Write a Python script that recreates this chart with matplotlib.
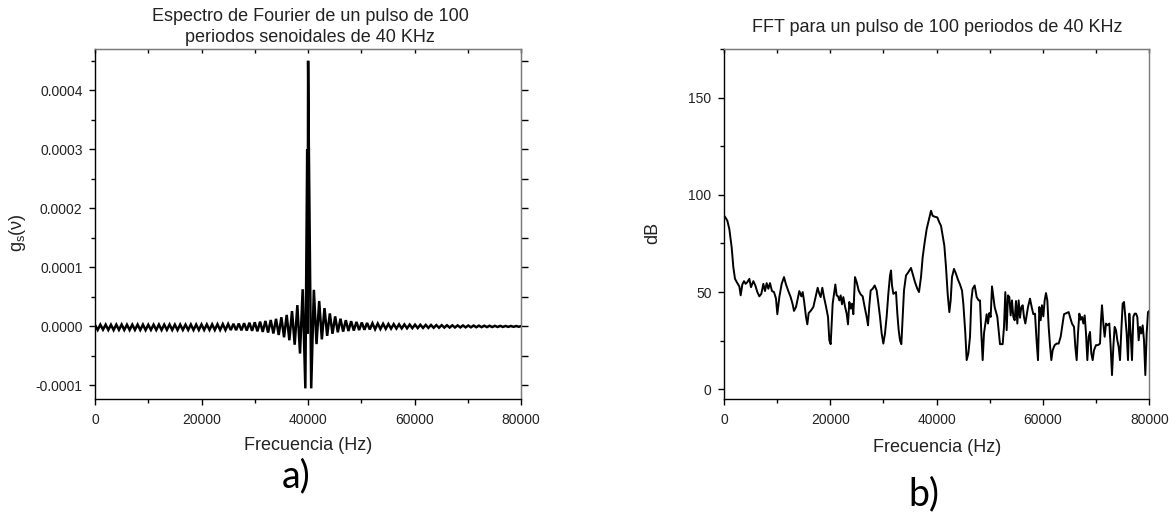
import numpy as np
import matplotlib
matplotlib.use("Agg")
import matplotlib.pyplot as plt
from matplotlib.ticker import MultipleLocator, FixedLocator, FuncFormatter

plt.rcParams['font.family'] = ['Liberation Sans', 'DejaVu Sans']
plt.rcParams['axes.unicode_minus'] = False
plt.rcParams['mathtext.fontset'] = 'custom'
plt.rcParams['mathtext.rm'] = 'Liberation Sans'
plt.rcParams['mathtext.it'] = 'Liberation Sans:italic'

# ---- (a) Fourier spectrum of a 100-period, 40 kHz sine pulse ----
freq_a = [
    0, 500, 1000, 1500, 2000, 2500, 3000, 3500, 4000, 4500,
    5000, 5500, 6000, 6500, 7000, 7500, 8000, 8500, 9000, 9500,
    10000, 10500, 11000, 11500, 12000, 12500, 13000, 13500, 14000, 14500,
    15000, 15500, 16000, 16500, 17000, 17500, 18000, 18500, 19000, 19500,
    20000, 20500, 21000, 21500, 22000, 22500, 23000, 23500, 24000, 24500,
    25000, 25500, 26000, 26500, 27000, 27500, 28000, 28500, 29000, 29500,
    30000, 30500, 31000, 31500, 32000, 32500, 33000, 33500, 34000, 34500,
    35000, 35500, 36000, 36500, 37000, 37500, 38000, 38500, 39000, 39500,
    39850, 39930, 40020, 40130,
    40600, 41100, 41600, 42100, 42600, 43100, 43600, 44100, 44600, 45100,
    45600, 46100, 46600, 47100, 47600, 48100, 48600, 49100, 49600, 50100,
    50600, 51100, 51600, 52100, 52600, 53100, 53600, 54100, 54600, 55100,
    55600, 56100, 56600, 57100, 57600, 58100, 58600, 59100, 59600, 60100,
    60600, 61100, 61600, 62100, 62600, 63100, 63600, 64100, 64600, 65100,
    65600, 66100, 66600, 67100, 67600, 68100, 68600, 69100, 69600, 70100,
    70600, 71100, 71600, 72100, 72600, 73100, 73600, 74100, 74600, 75100,
    75600, 76100, 76600, 77100, 77600, 78100, 78600, 79100, 79600, 80000,
]
# spectrum amplitude in units of 1e-6
gs_micro = [
    2.5, -6.0, 3.0, -5.5, 3.0, -6.0, 2.8, -6.2, 3.0, -5.8,
    3.2, -6.0, 2.9, -6.1, 3.0, -5.9, 3.1, -6.0, 3.0, -6.2,
    2.8, -5.9, 3.0, -6.0, 3.1, -6.1, 3.0, -5.8, 3.2, -6.0,
    3.0, -6.1, 3.1, -5.9, 3.0, -6.0, 3.2, -6.1, 3.1, -6.0,
    3.3, -6.0, 3.4, -5.9, 3.5, -6.0, 3.6, -6.0, 3.8, -6.1,
    4.0, -6.2, 4.4, -6.4, 4.8, -6.7, 5.4, -7.0, 6.2, -7.5,
    7.0, -8.3, 8.0, -9.3, 9.2, -10.5, 10.8, -12.0, 12.8, -14.5,
    15.5, -18.5, 19.5, -23.5, 26.0, -31.0, 36.0, -46.0, 63.0, -105.0,
    300.0, -12.0, 450.0, 330.0,
    -105.0, 62.0, -30.0, 43.0, -22.0, 31.0, -16.0, 22.0, -12.5, 17.0,
    -10.0, 13.0, -8.8, 10.5, -7.8, 8.8, -7.0, 7.6, -6.2, 6.6,
    -5.7, 5.9, -5.2, 5.3, -4.8, 4.8, -4.4, 4.4, -4.1, 4.1,
    -3.8, 3.8, -3.6, 3.5, -3.4, 3.3, -3.2, 3.1, -3.0, 2.9,
    -2.8, 2.7, -2.6, 2.5, -2.5, 2.4, -2.3, 2.2, -2.2, 2.1,
    -2.0, 1.9, -1.9, 1.8, -1.8, 1.7, -1.7, 1.6, -1.6, 1.5,
    -1.5, 1.4, -1.4, 1.3, -1.3, 1.2, -1.2, 1.1, -1.1, 1.0,
    -1.0, 0.9, -0.9, 0.8, -0.8, 0.7, -0.7, 0.6, -0.6, 0.5,
]

# ---- (b) FFT magnitude of the measured pulse, in dB ----
freq_b = [
    188, 627, 1003, 1442, 1756, 2069, 2508, 2884, 3135, 3449,
    3762, 4076, 4389, 4765, 5079, 5518, 5894, 6270, 6646, 7022,
    7399, 7712, 8026, 8339, 8653, 9029, 9405, 9781, 10032, 10408,
    10847, 11286, 11662, 12101, 12540, 12916, 13167, 13543, 13919, 14170,
    14547, 14797, 15048, 15424, 15675, 15926, 16302, 16804, 17305, 17619,
    17932, 18183, 18497, 18810, 19186, 19563, 19813, 20064, 20440, 20691,
    20942, 21193, 21443, 21694, 21945, 22196, 22447, 22760, 23074, 23325,
    23575, 23826, 24077, 24328, 24642, 24955, 25331, 25707, 26084, 26460,
    26836, 27087, 27338, 27588, 27965, 28341, 28717, 28968, 29344, 29657,
    29971, 30284, 30598, 30912, 31225, 31413, 31601, 31852, 32103, 32354,
    32604, 32855, 33106, 33357, 33607, 33858, 34234, 34673, 35175, 35489,
    35927, 36366, 36680, 37056, 37370, 37746, 38122, 38499, 38938, 39251,
    39690, 40129, 40505, 40818, 41132, 41445, 41759, 42072, 42386, 42637,
    42887, 43263, 43640, 44016, 44392, 44768, 45019, 45395, 45646, 45960,
    46273, 46524, 46775, 47151, 47527, 47903, 48154, 48405, 48656, 48906,
    49157, 49408, 49659, 49910, 50160, 50411, 50662, 50913, 51164, 51414,
    51665, 51916, 52418, 52668, 52919, 53170, 53421, 53672, 53922, 54173,
    54424, 54675, 54926, 55176, 55427, 55678, 55929, 56180, 56430, 56681,
    56932, 57183, 57559, 57873, 58186, 58500, 58813, 59064, 59315, 59565,
    59816, 60067, 60318, 60569, 60819, 61070, 61321, 61572, 61823, 62199,
    62575, 62951, 63327, 63705, 63955, 64456, 64833, 65083, 65459, 65835,
    66086, 66337, 66588, 66839, 67089, 67340, 67591, 67842, 68093, 68343,
    68594, 68845, 69096, 69347, 69597, 69974, 70350, 70726, 70914, 71102,
    71353, 71604, 71855, 72105, 72482, 72732, 72983, 73234, 73485, 73736,
    73986, 74237, 74488, 74739, 74990, 75240, 75491, 75742, 75993, 76244,
    76494, 76745, 76996, 77247, 77498, 77748, 77999, 78250, 78501, 78752,
    79002, 79253, 79504, 79755, 80000,
]
db_b = [
    88.7, 86.7, 82.4, 73.0, 62.8, 56.8, 54.6, 52.9, 48.3, 53.9,
    55.6, 54.2, 55.1, 56.8, 52.5, 55.6, 53.4, 50.0, 47.8, 49.1,
    54.2, 50.5, 54.6, 51.7, 54.6, 50.5, 50.0, 46.6, 38.6, 47.4,
    54.2, 57.7, 53.9, 50.5, 47.4, 43.7, 40.3, 42.3, 47.1, 50.5,
    47.8, 50.0, 45.7, 37.2, 33.4, 39.2, 40.3, 42.3, 48.3, 52.2,
    49.1, 47.4, 52.2, 47.4, 42.6, 37.2, 25.2, 23.2, 44.0, 48.8,
    53.9, 48.3, 47.8, 45.7, 48.3, 43.7, 47.4, 42.6, 38.9, 33.4,
    44.9, 41.5, 44.0, 38.6, 57.7, 55.1, 50.8, 48.8, 47.8, 42.3,
    37.2, 32.9, 43.2, 50.8, 51.7, 53.4, 50.8, 45.7, 37.2, 28.7,
    23.5, 28.7, 37.5, 49.1, 58.5, 61.1, 53.4, 49.1, 49.5, 50.0,
    38.9, 30.4, 25.2, 23.2, 37.2, 50.8, 58.5, 60.2, 62.4, 59.4,
    55.1, 51.7, 50.0, 57.7, 67.9, 75.6, 82.4, 86.7, 91.8, 89.2,
    88.7, 88.4, 85.8, 84.1, 79.0, 73.9, 62.8, 49.1, 39.7, 45.7,
    57.7, 61.9, 59.4, 56.3, 53.9, 50.8, 44.0, 28.7, 15.0, 18.4,
    27.0, 45.7, 51.7, 53.4, 47.4, 45.7, 45.7, 28.7, 15.0, 28.7,
    33.8, 38.6, 33.8, 39.2, 37.2, 52.9, 47.4, 42.3, 39.7, 37.2,
    30.4, 23.2, 23.2, 32.1, 50.0, 30.4, 48.3, 47.4, 38.0, 45.7,
    37.2, 35.5, 45.4, 33.8, 45.7, 36.8, 42.3, 43.2, 37.2, 33.8,
    38.0, 42.3, 46.6, 42.3, 38.6, 38.9, 24.4, 15.0, 42.3, 35.5,
    43.2, 37.5, 45.7, 49.5, 45.7, 32.1, 22.7, 15.0, 20.1, 22.7,
    23.5, 23.5, 27.0, 33.8, 38.6, 39.2, 39.7, 37.2, 33.8, 32.1,
    21.8, 15.0, 28.7, 38.9, 35.8, 37.2, 33.8, 38.0, 28.7, 15.0,
    27.0, 29.5, 18.4, 15.0, 20.1, 22.7, 22.7, 23.5, 35.5, 43.2,
    33.8, 27.0, 33.8, 32.9, 33.8, 21.8, 7.3, 21.8, 32.1, 30.4,
    25.2, 21.8, 15.0, 30.4, 44.0, 44.9, 37.2, 28.7, 15.0, 38.9,
    28.7, 15.0, 37.2, 38.9, 38.9, 37.2, 25.2, 32.1, 28.7, 32.9,
    25.2, 7.3, 28.7, 39.7, 40.3,
]

x_ticks = [0, 20000, 40000, 60000, 80000]
a_yticks = [-0.0001, 0.0, 0.0001, 0.0002, 0.0003, 0.0004]
b_yticks = [0, 50, 100, 150]

W, H = 1176, 512
fig = plt.figure(figsize=(W / 100, H / 100), dpi=100)

def px(x, y):
    return x / W, 1 - y / H

GRAY = '#7a7a7a'
INK = '#222222'
TICK_FS = 10
LABEL_FS = 13
TITLE_FS = 13


def style_axes(ax, right_ticks):
    ax.spines['left'].set_color('black')
    ax.spines['bottom'].set_color('black')
    ax.spines['top'].set_color(GRAY)
    ax.spines['right'].set_color(GRAY)
    for s in ax.spines.values():
        s.set_linewidth(1.0)
    ax.xaxis.set_major_locator(FixedLocator(x_ticks))
    ax.xaxis.set_minor_locator(MultipleLocator(10000))
    ax.tick_params(axis='both', which='major', direction='out', length=4,
                   width=1.0, labelsize=TICK_FS, colors='black',
                   labelcolor=INK)
    ax.tick_params(axis='both', which='minor', direction='out', length=3,
                   width=1.0)
    ax.tick_params(axis='x', which='both', pad=6)
    ax.tick_params(axis='y', which='both', pad=5)
    # top edge: short inward marks every 10000 Hz
    top = ax.secondary_xaxis('top')
    top.xaxis.set_major_locator(MultipleLocator(10000))
    top.tick_params(axis='x', which='major', direction='in', length=3,
                    width=1.0, labeltop=False, colors='black')
    top.spines['top'].set_color(GRAY)
    if right_ticks is not None:
        r = ax.secondary_yaxis('right')
        r.yaxis.set_major_locator(MultipleLocator(right_ticks))
        r.tick_params(axis='y', which='major', direction='out', length=5,
                      width=1.0, labelright=False, colors='black')
        r.spines['right'].set_color(GRAY)


# panel a
ax1 = fig.add_axes([95 / W, 1 - 399 / H, 426 / W, 350 / H])
ax1.plot(freq_a, np.array(gs_micro) * 1e-6, color='black', lw=1.8,
         solid_joinstyle='miter')
ax1.set_xlim(0, 80000)
ax1.set_ylim(-0.000123, 0.00047)
ax1.yaxis.set_major_locator(FixedLocator(a_yticks))
ax1.yaxis.set_minor_locator(MultipleLocator(0.00005))
ax1.yaxis.set_major_formatter(FuncFormatter(lambda v, p: f"{v:.4f}".replace('-0.0000', '0.0000')))
style_axes(ax1, 0.00005)

# panel b
ax2 = fig.add_axes([724 / W, 1 - 399 / H, 425.3 / W, 350 / H])
ax2.plot(freq_b, db_b, color='black', lw=1.4)
ax2.set_xlim(0, 80000)
ax2.set_ylim(-5, 175)
ax2.yaxis.set_major_locator(FixedLocator(b_yticks))
ax2.yaxis.set_minor_locator(MultipleLocator(25))
style_axes(ax2, None)

# titles and labels
fig.text(*px(310, 27), "Espectro de Fourier de un pulso de 100\nperiodos senoidales de 40 KHz",
         ha='center', va='center', fontsize=TITLE_FS, linespacing=1.35, color=INK)
fig.text(*px(937, 28), "FFT para un pulso de 100 periodos de 40 KHz",
         ha='center', va='center', fontsize=TITLE_FS, color=INK)
fig.text(*px(308, 445), "Frecuencia (Hz)", ha='center', va='center',
         fontsize=LABEL_FS, color=INK)
fig.text(*px(937, 447), "Frecuencia (Hz)", ha='center', va='center',
         fontsize=LABEL_FS, color=INK)
fig.text(*px(17, 233), r"$\mathrm{g_s(\nu)}$", ha='center', va='center',
         rotation=90, fontsize=LABEL_FS, color=INK)
fig.text(*px(653, 233), "dB", ha='center', va='center', rotation=90,
         fontsize=LABEL_FS, color=INK)
fig.text(*px(296, 476), "a)", ha='center', va='center', fontsize=27,
         family=['Lato', 'DejaVu Sans'])
fig.text(*px(924, 494), "b)", ha='center', va='center', fontsize=27,
         family=['Lato', 'DejaVu Sans'])

fig.savefig("out.png", dpi=100)
